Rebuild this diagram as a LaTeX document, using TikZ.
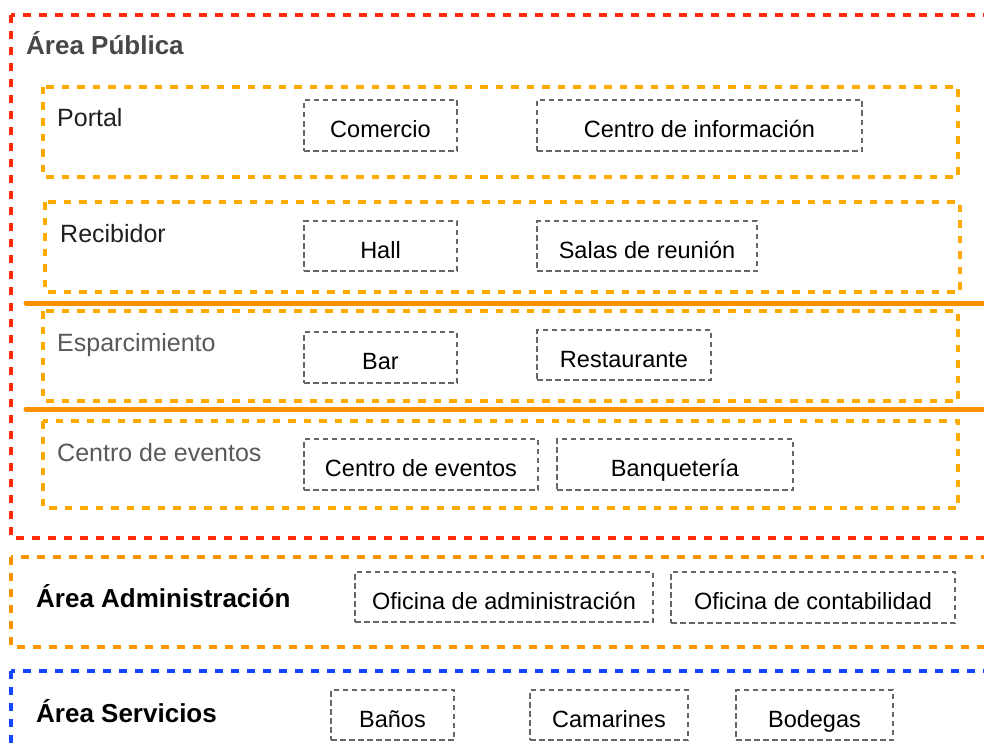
\documentclass[tikz,border=0pt]{standalone}
\usepackage{fontspec}
\usepackage{xcolor}
\setmainfont{Liberation Sans}

\definecolor{publicred}{HTML}{FF2B0A}
\definecolor{zoneamber}{HTML}{FFAA00}
\definecolor{adminorange}{HTML}{FF9500}
\definecolor{lineorange}{HTML}{FF9000}
\definecolor{serviceblue}{HTML}{1546FF}
\definecolor{roomgray}{HTML}{666666}

\tikzset{
  area/.style={dash pattern=on 8pt off 8pt, line width=4pt},
  zone/.style={draw=zoneamber, dash pattern=on 7.5pt off 8pt, line width=3.5pt},
  room/.style={draw=roomgray, dash pattern=on 5.5pt off 3.5pt, line width=2.6pt,
    minimum height=50pt, inner sep=0pt, text height=24pt, text depth=0pt,
    font=\fontsize{23.5}{28}\selectfont},
  arealabel/.style={anchor=base west, inner sep=0pt, font=\fontsize{26}{31}\selectfont\bfseries},
  zonelabel/.style={anchor=base west, inner sep=0pt, font=\fontsize{25}{30}\selectfont}
}

\begin{document}
\begin{tikzpicture}[x=1pt, y=-1pt]
  \useasboundingbox (0,0) rectangle (984,749);
  \clip (0,0) rectangle (984,749);

  % Draw the three areas
  \draw[area, publicred] (11,15) rectangle (1010,538);
  \draw[area, adminorange, line width=3.5pt] (11,557) rectangle (1010,647);
  \draw[area, serviceblue, line width=3.5pt] (11,671) rectangle (1010,770);

  % Draw the zones of the public area
  \draw[zone] (43,87) rectangle (958,177);
  \draw[zone] (45,202) rectangle (960,292);
  \draw[zone] (43,311) rectangle (958,401);
  \draw[zone] (43,421) rectangle (958,508);

  % Solid separators
  \draw[lineorange, line width=5pt, line cap=round] (26,303) -- (1010,303);
  \draw[lineorange, line width=5pt, line cap=round] (26,409) -- (1010,409);

  % Area and zone labels
  \node[arealabel, text=black!72] (publica) at (26,55) {Área Pública};
  \node[zonelabel, text=black!88] (portal) at (57,127) {Portal};
  \node[zonelabel, text=black!88] (recibidor) at (60,242) {Recibidor};
  \node[zonelabel, text=black!65] (esparcimiento) at (57,351) {Esparcimiento};
  \node[zonelabel, text=black!65] (eventoslbl) at (57,461) {Centro de eventos};
  \node[arealabel] (administracion) at (36,607) {Área Administración};
  \node[arealabel] (servicios) at (36,722) {Área Servicios};

  % Rooms
  \node[room, minimum width=153pt, minimum height=51pt] (comercio) at (380.5,125.5) {Comercio};
  \node[room, minimum width=325pt, minimum height=51pt] (informacion) at (699.5,125.5) {Centro de información};
  \node[room, minimum width=153pt] (hall) at (380.5,246) {Hall};
  \node[room, minimum width=220pt] (salas) at (647,246) {Salas de reunión};
  \node[room, minimum width=153pt, minimum height=51pt] (bar) at (380.5,357.5) {Bar};
  \node[room, minimum width=174pt] (restaurante) at (624,355) {Restaurante};
  \node[room, minimum width=234pt, minimum height=51pt] (eventos) at (421,464.5) {Centro de eventos};
  \node[room, minimum width=236pt, minimum height=51pt] (banqueteria) at (675,464.5) {Banquetería};
  \node[room, minimum width=298pt] (ofadmin) at (504,597) {Oficina de administración};
  \node[room, minimum width=284pt, minimum height=51pt] (ofconta) at (813,597.5) {Oficina de contabilidad};
  \node[room, minimum width=123pt] (banos) at (392.5,715) {Baños};
  \node[room, minimum width=158pt] (camarines) at (609,715) {Camarines};
  \node[room, minimum width=157pt] (bodegas) at (814.5,715) {Bodegas};
\end{tikzpicture}
\end{document}
